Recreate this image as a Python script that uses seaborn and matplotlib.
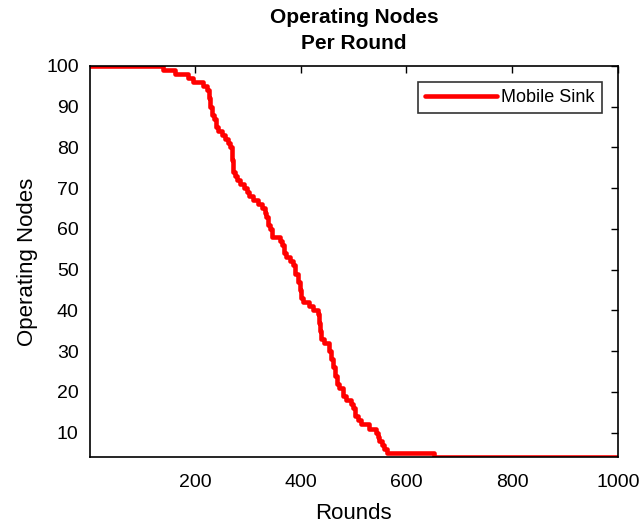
import matplotlib
matplotlib.use("Agg")
import matplotlib.pyplot as plt
import seaborn as sns
import pandas as pd

# Step-change points (round at which the count changes)
rounds = [1, 140, 162, 187, 196, 215, 222, 226, 229, 232, 236, 240, 244, 252, 257,
          262, 266, 270, 272, 276, 280, 285, 292, 298, 303, 310, 319, 326, 332, 335,
          338, 342, 345, 360, 365, 369, 373, 380, 385, 390, 395, 398, 401, 404, 415,
          423, 432, 435, 437, 439, 445, 453, 458, 461, 464, 468, 473, 480, 486, 495,
          498, 502, 508, 514, 530, 542, 546, 549, 553, 558, 564, 652, 1000]
nodes = [100, 99, 98, 97, 96, 95, 94, 92, 90, 88, 87, 85, 84, 83, 82,
         81, 80, 77, 74, 73, 72, 71, 70, 69, 68, 67, 66, 65, 64, 63,
         61, 60, 58, 57, 56, 54, 53, 52, 51, 49, 47, 45, 43, 42, 41,
         40, 39, 37, 35, 33, 32, 30, 28, 26, 24, 22, 21, 19, 18, 17,
         16, 14, 13, 12, 11, 10, 9, 8, 7, 6, 5, 4, 4]

series_name = "Mobile Sink"
x_ticks = [200, 400, 600, 800, 1000]
y_ticks = [10, 20, 30, 40, 50, 60, 70, 80, 90, 100]

df = pd.DataFrame({"Rounds": rounds, "Operating Nodes": nodes})

sns.set_style("white")
plt.rcParams["font.family"] = ["Liberation Sans", "DejaVu Sans"]
plt.rcParams["text.color"] = "black"
plt.rcParams["axes.labelcolor"] = "black"

fig = plt.figure(figsize=(6.41, 5.26), dpi=100)
ax = fig.add_axes([0.140, 0.131, 0.824, 0.744])

sns.lineplot(data=df, x="Rounds", y="Operating Nodes", drawstyle="steps-post",
             color="#ff0000", linewidth=3.3, label=series_name, ax=ax)

ax.set_xlim(1, 1000)
ax.set_ylim(4, 100)
ax.set_xticks(x_ticks)
ax.set_yticks(y_ticks)
ax.tick_params(axis="both", direction="in", top=True, right=True, length=5, width=1,
               labelsize=14, colors="black")
ax.tick_params(axis="x", pad=12)
ax.tick_params(axis="y", pad=8)
for s in ax.spines.values():
    s.set_visible(True)
    s.set_color("black")
    s.set_linewidth(1.2)

ax.set_xlabel("Rounds", fontsize=16, labelpad=9)
ax.set_ylabel("Operating Nodes", fontsize=16, labelpad=6)
ax.set_title("Operating Nodes\nPer Round", fontsize=15, fontweight="bold", pad=12,
             linespacing=1.45)

leg = ax.legend(loc="upper right", fontsize=13, handlelength=4.0, frameon=True,
                fancybox=False, edgecolor="black", borderaxespad=0.9,
                borderpad=0.4, handletextpad=0.2)
leg.get_frame().set_linewidth(1.2)

fig.savefig("out.png", dpi=100)
